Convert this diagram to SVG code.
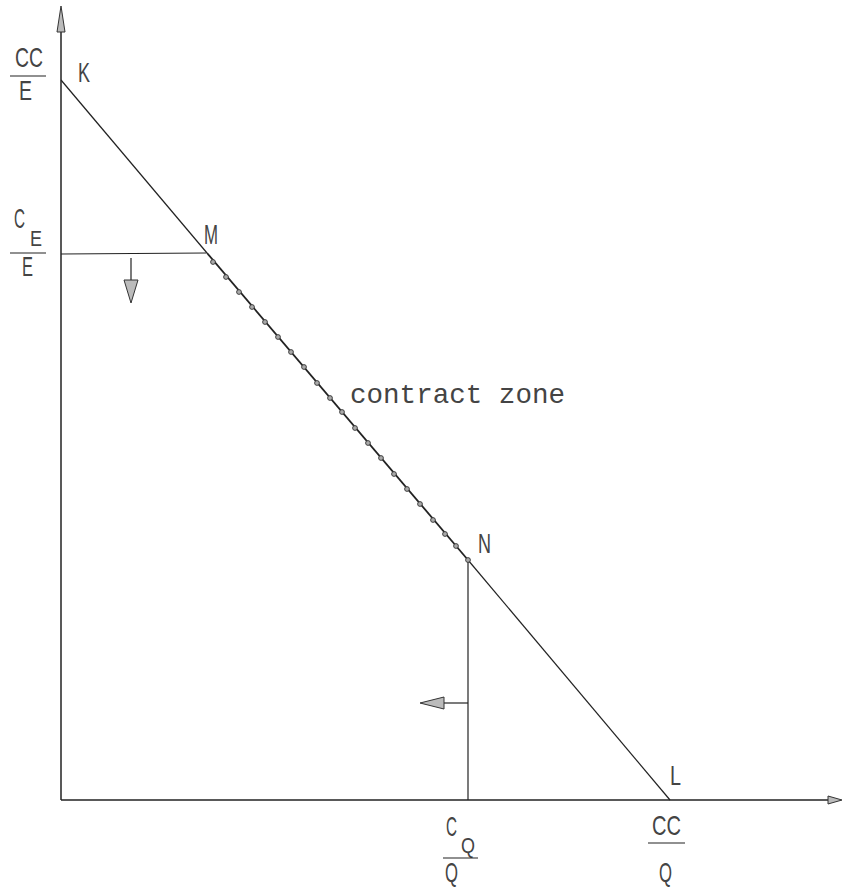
<svg xmlns="http://www.w3.org/2000/svg" width="846" height="888" viewBox="0 0 846 888">
<style>
.ln{stroke:#222;stroke-width:1.2;fill:none}
.thk{stroke:#222;stroke-width:1.8;fill:none}
.ax{stroke:#222;stroke-width:1.5;fill:none}
.t{font-family:"Liberation Sans",Arial,sans-serif;font-size:28px;fill:#444}
.s{font-family:"Liberation Sans",Arial,sans-serif;font-size:22px;fill:#444}
.m{font-family:"Liberation Mono","DejaVu Sans Mono",monospace;font-size:28px;fill:#444}
.ah{fill:#bbb;stroke:#333;stroke-width:1}
.dot{fill:#aaa;stroke:#333;stroke-width:0.9}
</style>
<rect width="846" height="888" fill="#fff"/>
<g id="axes">
<line class="ax" x1="61" y1="800" x2="61" y2="12"/>
<polygon class="ah" points="61,6 57,32 65,32"/>
<line class="ax" x1="61" y1="800" x2="834" y2="800"/>
<polygon class="ah" points="842,800 828,796 828,804"/>
</g>
<g id="connectors">
<line class="ln" x1="61" y1="80" x2="207" y2="253"/>
<line class="thk" x1="207" y1="253" x2="468" y2="560"/>
<line class="ln" x1="468" y1="560" x2="670" y2="800"/>
<line class="ln" x1="61" y1="254" x2="206" y2="253"/>
<line class="ln" x1="468" y1="560" x2="468" y2="800"/>
<line class="ln" x1="131" y1="258" x2="131" y2="282"/>
<polygon class="ah" points="124,280 138,280 131,303"/>
<line class="ln" x1="468" y1="703" x2="444" y2="703"/>
<polygon class="ah" points="420,703 444,697 444,709"/>
</g>
<g id="dots">
<circle class="dot" cx="213" cy="262" r="2.4"/>
<circle class="dot" cx="226" cy="277" r="2.4"/>
<circle class="dot" cx="239" cy="292" r="2.4"/>
<circle class="dot" cx="252" cy="307" r="2.4"/>
<circle class="dot" cx="265" cy="322" r="2.4"/>
<circle class="dot" cx="278" cy="337" r="2.4"/>
<circle class="dot" cx="291" cy="352" r="2.4"/>
<circle class="dot" cx="304" cy="367" r="2.4"/>
<circle class="dot" cx="317" cy="383" r="2.4"/>
<circle class="dot" cx="330" cy="398" r="2.4"/>
<circle class="dot" cx="342" cy="412" r="2.4"/>
<circle class="dot" cx="355" cy="428" r="2.4"/>
<circle class="dot" cx="368" cy="443" r="2.4"/>
<circle class="dot" cx="381" cy="458" r="2.4"/>
<circle class="dot" cx="394" cy="474" r="2.4"/>
<circle class="dot" cx="407" cy="489" r="2.4"/>
<circle class="dot" cx="420" cy="504" r="2.4"/>
<circle class="dot" cx="433" cy="520" r="2.4"/>
<circle class="dot" cx="445" cy="534" r="2.4"/>
<circle class="dot" cx="456" cy="546" r="2.4"/>
<circle class="dot" cx="468" cy="560" r="2.4"/>
</g>
<g id="K"><text class="t" x="78" y="82" textLength="12" lengthAdjust="spacingAndGlyphs">K</text></g>
<g id="M"><text class="t" x="204" y="244" textLength="14" lengthAdjust="spacingAndGlyphs">M</text></g>
<g id="N"><text class="t" x="478" y="553" textLength="13" lengthAdjust="spacingAndGlyphs">N</text></g>
<g id="L"><text class="t" x="670" y="785" textLength="11" lengthAdjust="spacingAndGlyphs">L</text></g>
<g id="zone"><text class="m" x="350" y="403" textLength="215" lengthAdjust="spacingAndGlyphs">contract zone</text></g>
<g id="CCE">
<text class="t" x="15" y="67" textLength="28" lengthAdjust="spacingAndGlyphs">CC</text>
<line class="ln" x1="10" y1="76" x2="46" y2="76"/>
<text class="t" x="19" y="100" textLength="13" lengthAdjust="spacingAndGlyphs">E</text>
</g>
<g id="CEE">
<text class="t" x="14" y="228" textLength="11" lengthAdjust="spacingAndGlyphs">C</text>
<text class="s" x="30" y="246" textLength="12" lengthAdjust="spacingAndGlyphs">E</text>
<line class="ln" x1="10" y1="253" x2="46" y2="253"/>
<text class="t" x="22" y="276" textLength="11" lengthAdjust="spacingAndGlyphs">E</text>
</g>
<g id="CQQ">
<text class="t" x="446" y="836" textLength="11" lengthAdjust="spacingAndGlyphs">C</text>
<text class="s" x="461" y="853" textLength="14" lengthAdjust="spacingAndGlyphs">Q</text>
<line class="ln" x1="443" y1="858" x2="478" y2="858"/>
<text class="t" x="445" y="882" textLength="13" lengthAdjust="spacingAndGlyphs">Q</text>
</g>
<g id="CCQ">
<text class="t" x="652" y="835" textLength="29" lengthAdjust="spacingAndGlyphs">CC</text>
<line class="ln" x1="648" y1="843" x2="685" y2="843"/>
<text class="t" x="659" y="882" textLength="13" lengthAdjust="spacingAndGlyphs">Q</text>
</g>
</svg>
